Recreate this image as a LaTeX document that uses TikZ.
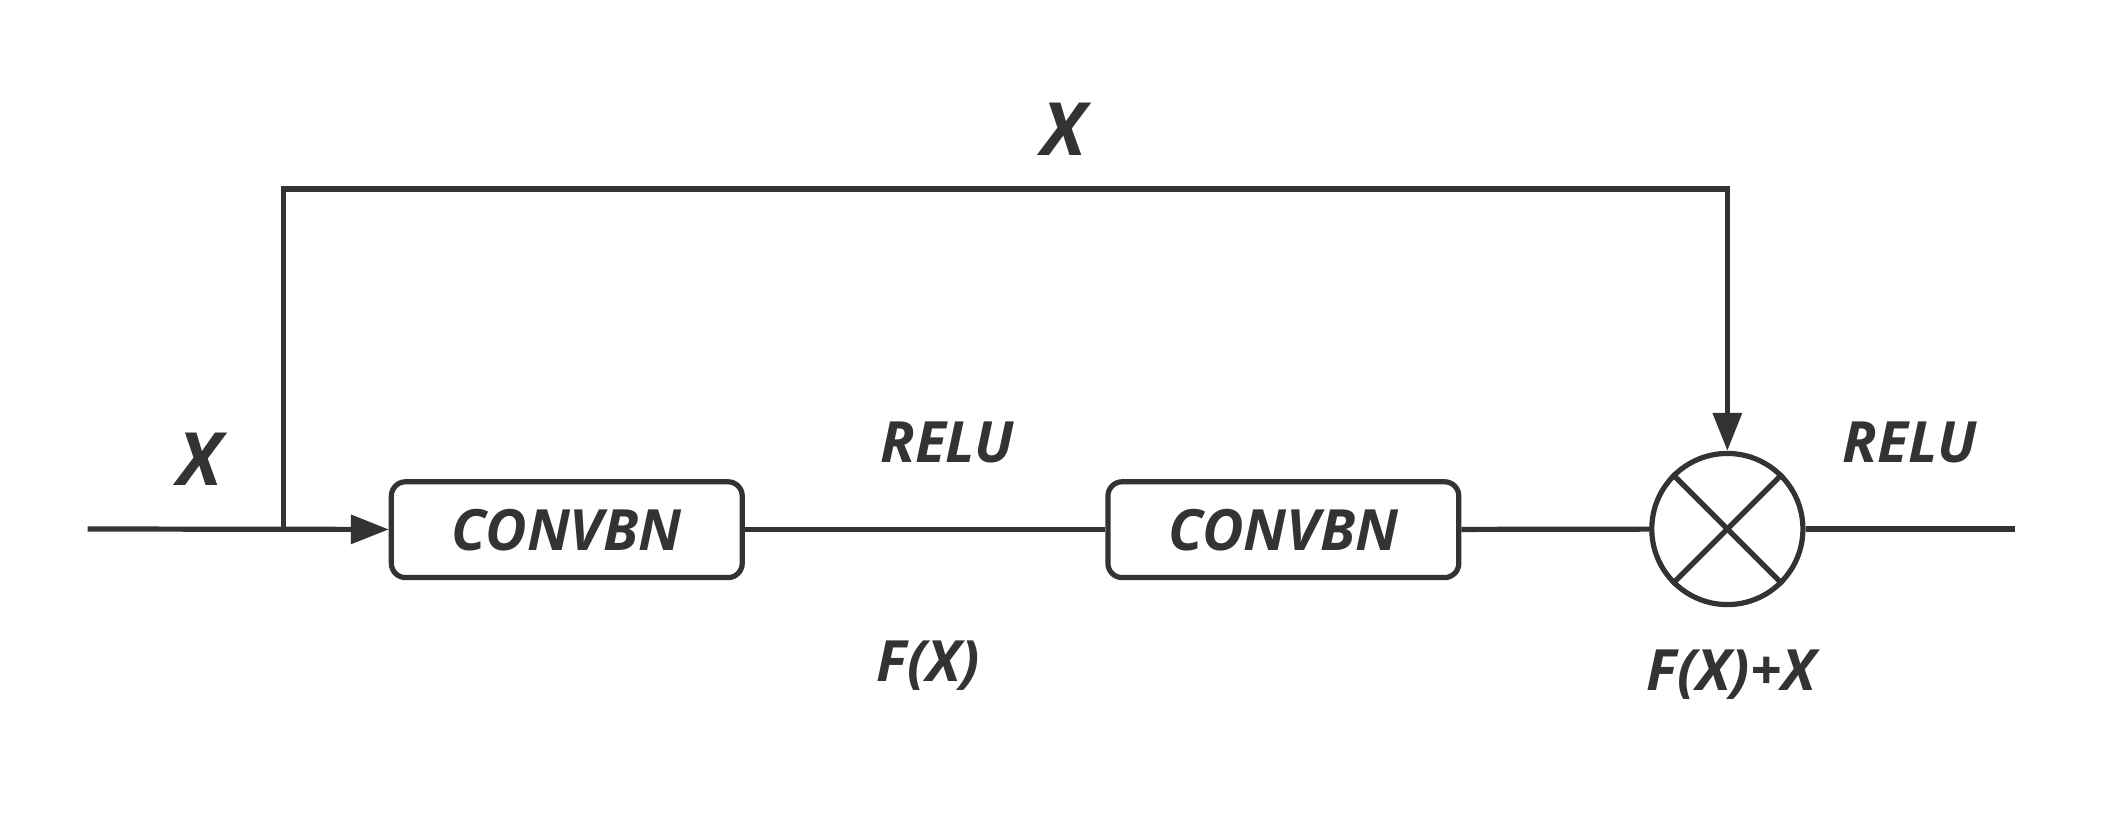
\documentclass[tikz,border=0pt]{standalone}
\usepackage{fontspec}
\setmainfont{Open Sans}
\usetikzlibrary{arrows.meta}
\begin{document}
\begin{tikzpicture}[x=0.02cm,y=-0.02cm,
  line/.style={line width=2.2pt,draw=black!80},
  box/.style={draw=black!80,line width=2.2pt,rounded corners=6pt,minimum width=260*0.02cm,minimum height=71*0.02cm,inner sep=0pt},
  lbl/.style={font=\fontsize{24}{28}\selectfont\bfseries\itshape,text=black!80},
  big/.style={font=\fontsize{31}{36}\selectfont\bfseries\itshape,text=black!80},
  tip/.style={-{Triangle[length=16pt,width=12pt]}}]
\useasboundingbox (0,0) rectangle (1568,605);
\coordinate (in) at (65,392);
\coordinate (br) at (210,392);
\coordinate (tl) at (210,140);
\coordinate (tr) at (1280,140);
\coordinate (out) at (1493,392);
\node[box,lbl] (b1) at (420,392.5) {CONVBN};
\node[box,lbl] (b2) at (951,392.5) {CONVBN};
\node[circle,draw=black!80,line width=2.2pt,minimum size=112*0.02cm,inner sep=0pt] (s) at (1280,392) {};
\draw[line] (s.45) -- (s.225);
\draw[line] (s.135) -- (s.315);
\draw[line,tip] (in) -- (b1);
\draw[line] (b1) -- (b2);
\draw[line] (b2) -- (s);
\draw[line] (s) -- (out);
\draw[line,tip] (br) -- (tl) -- (tr) -- (s.north);
\node[big] (x1) at (148,340) {X};
\node[big] (x2) at (788,96) {X};
\node[lbl] (r1) at (702,328) {RELU};
\node[lbl] (f1) at (688,493) {F(X)};
\node[lbl] (r2) at (1415,328) {RELU};
\node[lbl] (f2) at (1283,500) {F(X)+X};
\end{tikzpicture}
\end{document}
